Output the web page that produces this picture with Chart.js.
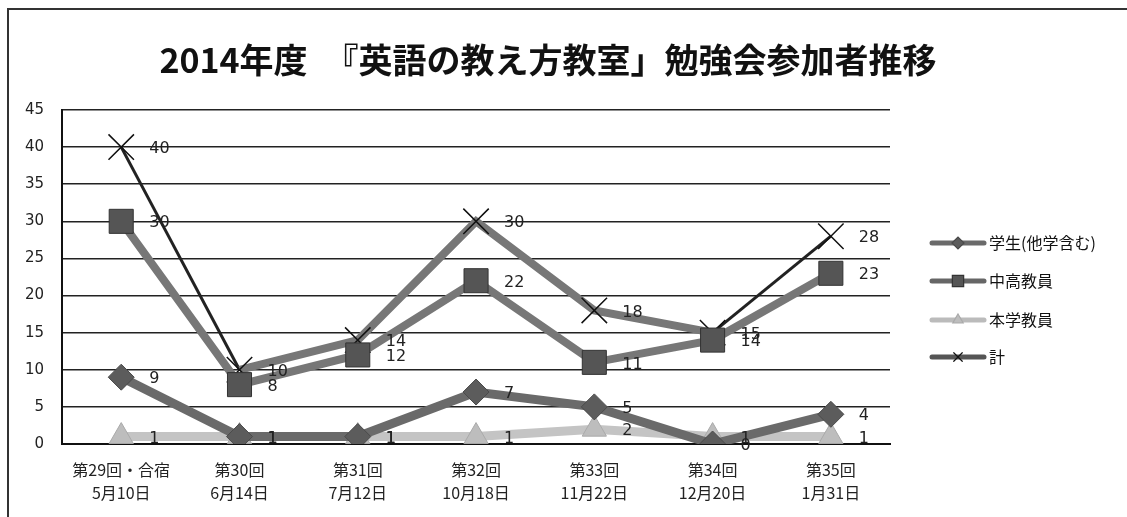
<!DOCTYPE html>
<html>
<head>
<meta charset="utf-8">
<script src="https://cdn.jsdelivr.net/npm/chart.js@4.4.1/dist/chart.umd.min.js"></script>
<style>
  body { margin: 0; background: #fff; }
  #frame { position: absolute; left: 7px; top: 8px; width: 1140px; height: 530px; border: 2px solid #333; }
  #wrap { position: absolute; left: 0; top: 0; width: 1100px; height: 517px; }
</style>
</head>
<body>
<div id="frame"></div>
<div id="wrap"><canvas id="chart"></canvas></div>
<script>
// 回・日付
var kai = ['第29回・合宿', '第30回', '第31回', '第32回', '第33回', '第34回', '第35回'];
var hizuke = ['5月10日', '6月14日', '7月12日', '10月18日', '11月22日', '12月20日', '1月31日'];

var gakusei = [9, 1, 1, 7, 5, 0, 4];
var chukou = [30, 8, 12, 22, 11, 14, 23];
var honGaku = [1, 1, 1, 1, 2, 1, 1];
var kei = [40, 10, 14, 30, 18, 15, 28];

var yTicks = [0, 5, 10, 15, 20, 25, 30, 35, 40, 45];

var titleText = '2014年度　『英語の教え方教室」勉強会参加者推移';

var labels = kai.map(function(k, i) { return [k, hizuke[i]]; });

// 数値ラベル
var valueLabels = {
  id: 'valueLabels',
  afterDatasetsDraw: function(chart) {
    var ctx = chart.ctx;
    ctx.save();
    ctx.font = '16px "DejaVu Sans"';
    ctx.fillStyle = '#222';
    ctx.textAlign = 'left';
    ctx.textBaseline = 'middle';
    chart.data.datasets.forEach(function(ds, i) {
      var meta = chart.getDatasetMeta(i);
      meta.data.forEach(function(pt, j) {
        ctx.fillText(ds.data[j], pt.x + 28, pt.y + 2);
      });
    });
    ctx.restore();
  }
};

// タイトルと凡例（線＋マーカー）
var sideLegend = {
  id: 'sideLegend',
  afterDraw: function(chart) {
    var ctx = chart.ctx;
    ctx.save();
    ctx.fillStyle = '#111';
    ctx.font = 'bold 34px "Noto Sans CJK JP"';
    ctx.textAlign = 'center';
    ctx.textBaseline = 'middle';
    ctx.fillText(titleText, 548, 60);

    var rows = [243, 281, 320, 357];
    chart.data.datasets.forEach(function(ds, i) {
      var y = rows[i];
      ctx.strokeStyle = ds.legendColor;
      ctx.lineWidth = 5;
      ctx.lineCap = 'round';
      ctx.beginPath();
      ctx.moveTo(932, y);
      ctx.lineTo(984, y);
      ctx.stroke();
      ctx.fillStyle = ds.pointBackgroundColor;
      ctx.strokeStyle = ds.pointBorderColor;
      ctx.lineWidth = 1.2;
      Chart.helpers.drawPoint(ctx, {
        pointStyle: ds.pointStyle,
        radius: ds.pointStyle === 'rect' ? 8 : 6,
        rotation: 0,
        borderWidth: 1.2
      }, 958, y);
      ctx.fillStyle = '#111';
      ctx.font = '16px "Noto Sans CJK JP"';
      ctx.textAlign = 'left';
      ctx.textBaseline = 'middle';
      ctx.fillText(ds.label, 989, y);
    });
    ctx.restore();
  }
};

var ctx = document.getElementById('chart');
var chart = new Chart(ctx, {
  type: 'line',
  data: {
    labels: labels,
    datasets: [{
      label: '学生(他学含む)',
      data: gakusei,
      borderColor: '#6a6a6a',
      legendColor: '#6a6a6a',
      borderWidth: 9,
      pointStyle: 'rectRot',
      pointRadius: 13,
      pointBackgroundColor: '#5c5c5c',
      pointBorderColor: '#4a4a4a',
      pointBorderWidth: 1
    }, {
      label: '中高教員',
      data: chukou,
      borderColor: '#777',
      legendColor: '#666',
      borderWidth: 8,
      pointStyle: 'rect',
      pointRadius: 17,
      pointBackgroundColor: '#555',
      pointBorderColor: '#333',
      pointBorderWidth: 1
    }, {
      label: '本学教員',
      data: honGaku,
      borderColor: '#c4c4c4',
      legendColor: '#bbb',
      borderWidth: 9,
      pointStyle: 'triangle',
      pointRadius: 14,
      pointBackgroundColor: '#bdbdbd',
      pointBorderColor: '#aaa',
      pointBorderWidth: 1
    }, {
      label: '計',
      data: kei,
      borderColor: '#222',
      legendColor: '#555',
      borderWidth: 3,
      segment: {
        borderColor: function(c) { return (c.p0DataIndex === 0 || c.p0DataIndex === 5) ? '#222' : '#777'; },
        borderWidth: function(c) { return (c.p0DataIndex === 0 || c.p0DataIndex === 5) ? 3 : 8; }
      },
      pointStyle: 'crossRot',
      pointRadius: 18,
      pointBackgroundColor: '#111',
      pointBorderColor: '#111',
      pointBorderWidth: 1.5
    }]
  },
  options: {
    responsive: true,
    maintainAspectRatio: false,
    animation: false,
    layout: { padding: { left: 7, right: 210, top: 110, bottom: 0 } },
    plugins: {
      legend: { display: false },
      tooltip: { enabled: false },
      title: { display: false }
    },
    scales: {
      x: {
        offset: true,
        afterFit: function(scale) { scale.height = 73; },
        grid: { display: false, drawTicks: false },
        border: { color: '#111', width: 2 },
        ticks: {
          color: '#222',
          font: { family: '"Noto Sans CJK JP"', size: 16, lineHeight: 1.4 },
          padding: 15,
          maxRotation: 0
        }
      },
      y: {
        min: 0,
        max: 45,
        afterBuildTicks: function(axis) {
          axis.ticks = yTicks.map(function(v) { return { value: v }; });
        },
        grid: { color: '#222', lineWidth: 1.5, drawTicks: false },
        border: { color: '#111', width: 2 },
        ticks: {
          color: '#222',
          font: { family: '"DejaVu Sans"', size: 15 },
          padding: 18
        }
      }
    }
  },
  plugins: [valueLabels, sideLegend]
});
</script>
</body>
</html>
